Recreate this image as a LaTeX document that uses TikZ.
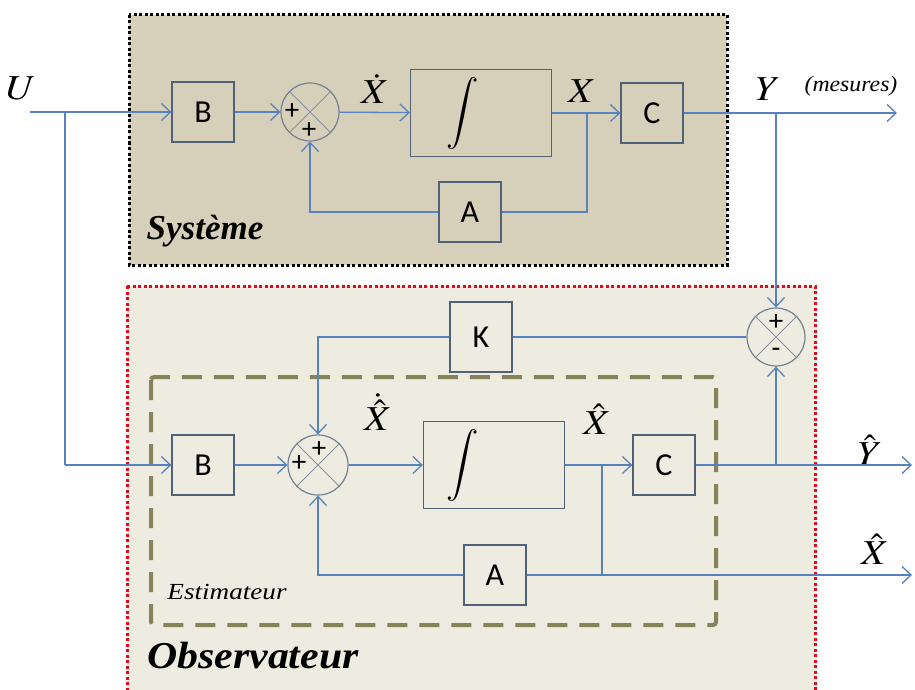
\documentclass[tikz,border=0pt]{standalone}
\usepackage{mathptmx}
\usepackage{graphicx}
\usepackage{fontspec}
\setmainfont{Liberation Serif}
\newfontfamily\boxfont{Carlito}
\usetikzlibrary{arrows.meta}
\definecolor{sigblue}{RGB}{88,130,190}
\definecolor{boxgray}{RGB}{80,98,120}
\definecolor{sysfill}{RGB}{214,207,186}
\definecolor{obsfill}{RGB}{238,235,225}
\definecolor{estolive}{RGB}{135,131,88}
\definecolor{obsred}{RGB}{222,10,30}
\newcommand{\wide}[2][1.12]{\scalebox{#1}[1]{#2}}

\begin{document}
\begin{tikzpicture}[
x=1pt, y=-1pt,
block/.style={draw=boxgray, line width=1.3pt, inner sep=0pt, minimum width=62pt,
  minimum height=60pt, font={\boxfont\fontsize{32}{34}\selectfont}},
intblock/.style={block, minimum width=141pt, minimum height=87pt,
  font={\fontsize{36}{38}\selectfont}},
summer/.style={circle, draw=boxgray!80, line width=1.2pt, inner sep=0pt, minimum size=58pt,
  path picture={\draw[boxgray!70, line width=1pt]
    (path picture bounding box.north west) -- (path picture bounding box.south east)
    (path picture bounding box.north east) -- (path picture bounding box.south west);}},
sign/.style={inner sep=0pt, font={\boxfont\fontsize{29}{30}\selectfont}},
link/.style={sigblue, line width=1.3pt},
arrow/.style={link, -{Straight Barb[length=9pt, width=17pt, line width=1.3pt]}},
mlabel/.style={inner sep=0pt, font=\fontsize{35}{37}\selectfont},
sysframe/.style={draw=black, fill=sysfill, line width=3pt, dash pattern=on 3pt off 2.5pt},
obsframe/.style={draw=obsred, fill=obsfill, line width=3pt, dash pattern=on 3pt off 2.5pt},
estframe/.style={draw=estolive, line width=4pt, rounded corners=3pt, dash pattern=on 20pt off 12pt}
]
\useasboundingbox (0,0) rectangle (915,690);
\fill[white] (0,0) rectangle (915,690);

% frames
\draw[sysframe] (129,15) rectangle (727,265);
\draw[obsframe] (127,286) rectangle (815,705);
\draw[estframe] (151,377) rectangle (716,625);

% systeme
\node[mlabel] (u) at (21,88) {\wide{$U$}};
\coordinate (uin) at (30,112);
\coordinate (ubranch) at (65,112);
\node[block] (bsys) at (203,112) {B};
\node[summer] (sumsys) at (310,112) {};
\node[sign] (sysplusa) at (292,112) {+};
\node[sign] (sysplusb) at (309,131) {+};
\node[intblock] (intsys) at (481,113) {\hspace*{-36pt}$\displaystyle\int$};
\node[block] (csys) at (652,113) {C};
\node[block] (asys) at (470,212) {A};
\coordinate (xbranch) at (587,113);
\coordinate (ybranch) at (776,113);
\coordinate (yout) at (897,113);
\node[mlabel] (xdot) at (375,89) {\wide{$\dot X$}};
\node[mlabel] (xsys) at (582,91) {\wide{$X$}};
\node[mlabel] (ysys) at (768,89) {\wide{$Y$}};
\node[inner sep=0pt, font=\itshape\fontsize{22}{24}\selectfont] (mesures) at (851,86) {\wide[1.08]{(mesures)}};
\node[inner sep=0pt, font=\bfseries\itshape\fontsize{35}{37}\selectfont] (systeme) at (205,231) {Système};

\draw[arrow] (uin) -- (bsys);
\draw[arrow] (bsys) -- (sumsys);
\draw[arrow] (sumsys) -- (intsys);
\draw[arrow] (intsys) -- (csys);
\draw[arrow] (csys) -- (yout);
\draw[link] (xbranch) |- (asys);
\draw[arrow] (asys) -| (sumsys);

% observateur
\node[summer] (sumerr) at (776,337) {};
\node[sign] (errplus) at (776,323) {+};
\node[sign] (errminus) at (776,353) {-};
\node[block, minimum height=70pt] (kgain) at (481,337) {K};
\node[block] (bobs) at (203,465) {B};
\node[summer, minimum size=60pt] (sumobs) at (318,465) {};
\node[sign] (obsplusa) at (299,464) {+};
\node[sign] (obsplusb) at (319,450) {+};
\node[intblock] (intobs) at (494,465) {\hspace*{-62pt}$\displaystyle\int$};
\node[block] (cobs) at (664,465) {C};
\node[block] (aobs) at (495,575) {A};
\coordinate (xhbranch) at (602,465);
\coordinate (xhcorner) at (602,575);
\coordinate (yhbranch) at (776,465);
\coordinate (yhout) at (912,465);
\coordinate (xhout) at (912,575);
\node[mlabel] (xhdot) at (378,412) {\wide{$\dot{\hat X}$}};
\node[mlabel] (xhobs) at (597,419) {\wide{$\hat X$}};
\node[mlabel] (yhobs) at (870,450) {\wide{$\hat Y$}};
\node[mlabel] (xhres) at (875,549) {\wide{$\hat X$}};
\node[inner sep=0pt, font=\itshape\fontsize{23}{25}\selectfont] (estim) at (227,592) {\wide[1.18]{Estimateur}};
\node[inner sep=0pt, font=\bfseries\itshape\fontsize{38}{40}\selectfont] (observ) at (253,656) {\wide[1.1]{Observateur}};

\draw[link] (ubranch) -- (ubranch |- bobs);
\draw[arrow] (ubranch |- bobs) -- (bobs);
\draw[arrow] (ybranch) -- (sumerr);
\draw[link] (sumerr) -- (kgain);
\draw[arrow] (kgain) -| (sumobs);
\draw[arrow] (bobs) -- (sumobs);
\draw[arrow] (sumobs) -- (intobs);
\draw[arrow] (intobs) -- (cobs);
\draw[arrow] (cobs) -- (yhout);
\draw[arrow] (yhbranch) -- (sumerr);
\draw[link] (xhbranch) -- (xhcorner);
\draw[link] (aobs) -- (xhcorner);
\draw[arrow] (xhcorner) -- (xhout);
\draw[arrow] (aobs) -| (sumobs);
\end{tikzpicture}
\end{document}
